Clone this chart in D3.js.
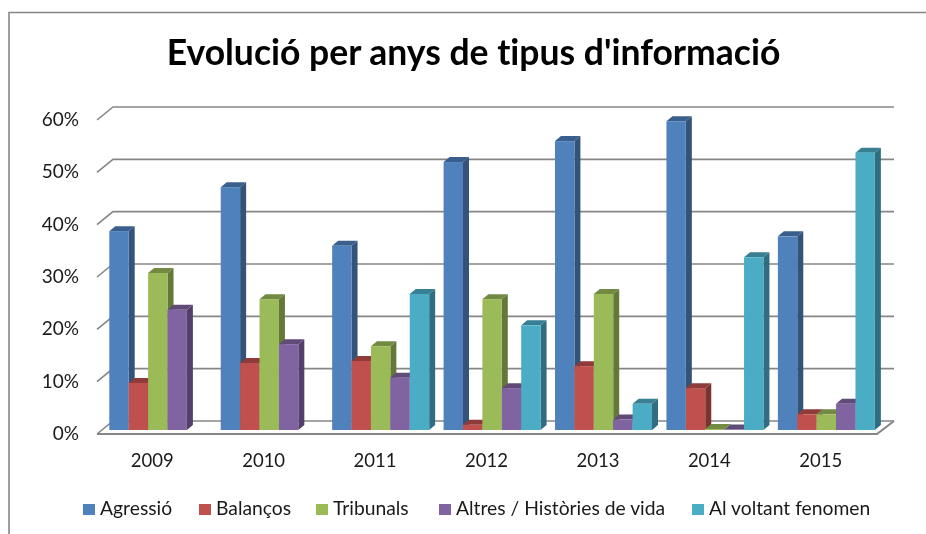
<!DOCTYPE html>
<html>
<head>
<meta charset="utf-8">
<script src="https://cdnjs.cloudflare.com/ajax/libs/d3/7.8.5/d3.min.js"></script>
<style>
  html, body { margin: 0; padding: 0; background: #fff; }
  svg { display: block; filter: blur(0.35px); }
  text { font-family: Lato, "Open Sans", sans-serif; fill: #1a1a1a; font-variant-ligatures: none; }
</style>
</head>
<body>
<div id="chart"></div>
<script>
const years = ['2009', '2010', '2011', '2012', '2013', '2014', '2015'];
const seriesNames = ['Agressió', 'Balanços', 'Tribunals', 'Altres / Històries de vida', 'Al voltant fenomen'];
const agressio = [38, 46.4, 35.2, 51.2, 55.2, 59, 37];
const balancos = [9, 12.8, 13.2, 1, 12.2, 8, 3];
const tribunals = [30, 25, 16, 25, 26, 0.2, 3];
const altres = [23, 16.4, 10, 8, 2, 0.1, 5];
const voltant = [0, 0, 26, 20, 5, 33, 53];
const yTicks = [0, 10, 20, 30, 40, 50, 60];
const allSeries = [agressio, balancos, tribunals, altres, voltant];

const colors = ['#4f81bd', '#c0504d', '#9bbb59', '#8064a2', '#4bacc6'];

const width = 926;
const height = 534;
const depthX = 16;   // floor depth of the 3d box
const depthY = 13;
const barDx = 6;     // depth of one bar
const barDy = 5;

const svg = d3.select('#chart').append('svg')
  .attr('width', width)
  .attr('height', height);

// frame, cropped by the picture on the right and at the bottom
svg.append('path')
  .attr('d', 'M9,534V12.5H926')
  .attr('fill', 'none')
  .attr('stroke', '#868686')
  .attr('stroke-width', 1.6);

const x = d3.scaleBand().domain(years).range([97, 877]);
const group = d3.scaleBand().domain(d3.range(5)).range([12.3, 12.3 + 97]);
const y = d3.scaleLinear().domain([0, 60]).range([434, 120]);

// how high a bar of this value stands: bars start a little behind the floor front edge
const barBase = 430;
const barH = v => y(0) - y(v);

// back wall gridlines and the slanted left side
const grid = svg.append('g').attr('fill', 'none').attr('stroke', '#868686').attr('stroke-width', 1.6);
yTicks.forEach(t => {
  grid.append('path')
    .attr('d', `M${x.range()[0]},${y(t)}L${x.range()[0] + depthX},${y(t) - depthY}H${x.range()[1] + depthX + 1}`);
});
// floor outline
grid.append('path')
  .attr('d', `M${x.range()[0]},${y(0)}H${x.range()[1]}L${x.range()[1] + depthX + 1},${y(0) - depthY}`)
  .attr('stroke-width', 2);

function shade(c, k) {
  return d3.rgb(c).darker(k).formatHex();
}

const bars = svg.append('g');
years.forEach((year, i) => {
  allSeries.forEach((vals, s) => {
    const v = vals[i];
    if (v === 0) return;
    const bx = x(year) + group(s);
    const w = group.bandwidth();
    const top = barBase - barH(v);
    const g = bars.append('g');
    // side face
    g.append('path')
      .attr('d', `M${bx + w},${top}l${barDx},${-barDy}V${barBase - barDy}l${-barDx},${barDy}Z`)
      .attr('fill', shade(colors[s], 1.25));
    // top face
    g.append('path')
      .attr('d', `M${bx},${top}l${barDx},${-barDy}h${w}l${-barDx},${barDy}Z`)
      .attr('fill', shade(colors[s], 0.85));
    // front face
    g.append('rect')
      .attr('x', bx)
      .attr('y', top)
      .attr('width', w)
      .attr('height', barH(v))
      .attr('fill', colors[s]);
  });
});

// y labels
svg.append('g').selectAll('text')
  .data(yTicks)
  .enter()
  .append('text')
  .attr('x', 79)
  .attr('y', d => y(d) + 6)
  .attr('text-anchor', 'end')
  .attr('font-size', 19)
  .text(d => d + '%');

// x labels
svg.append('g').selectAll('text')
  .data(years)
  .enter()
  .append('text')
  .attr('x', d => x(d) + x.bandwidth() / 2 - 0.5)
  .attr('y', 467)
  .attr('text-anchor', 'middle')
  .attr('font-size', 18.5)
  .text(d => d);

svg.append('text')
  .attr('x', 473.5)
  .attr('y', 65)
  .attr('text-anchor', 'middle')
  .attr('font-size', 35.5)
  .attr('font-weight', 700)
  .style('fill', '#000')
  .text("Evolució per anys de tipus d'informació");

// legend
const legendX = [83, 199, 316, 439, 692];
const legend = svg.append('g');
seriesNames.forEach((name, i) => {
  legend.append('rect')
    .attr('x', legendX[i])
    .attr('y', 504)
    .attr('width', 12)
    .attr('height', 11)
    .attr('fill', colors[i]);
  legend.append('text')
    .attr('x', legendX[i] + 17)
    .attr('y', 515)
    .attr('font-size', 19.3)
    .text(name);
});
</script>
</body>
</html>
